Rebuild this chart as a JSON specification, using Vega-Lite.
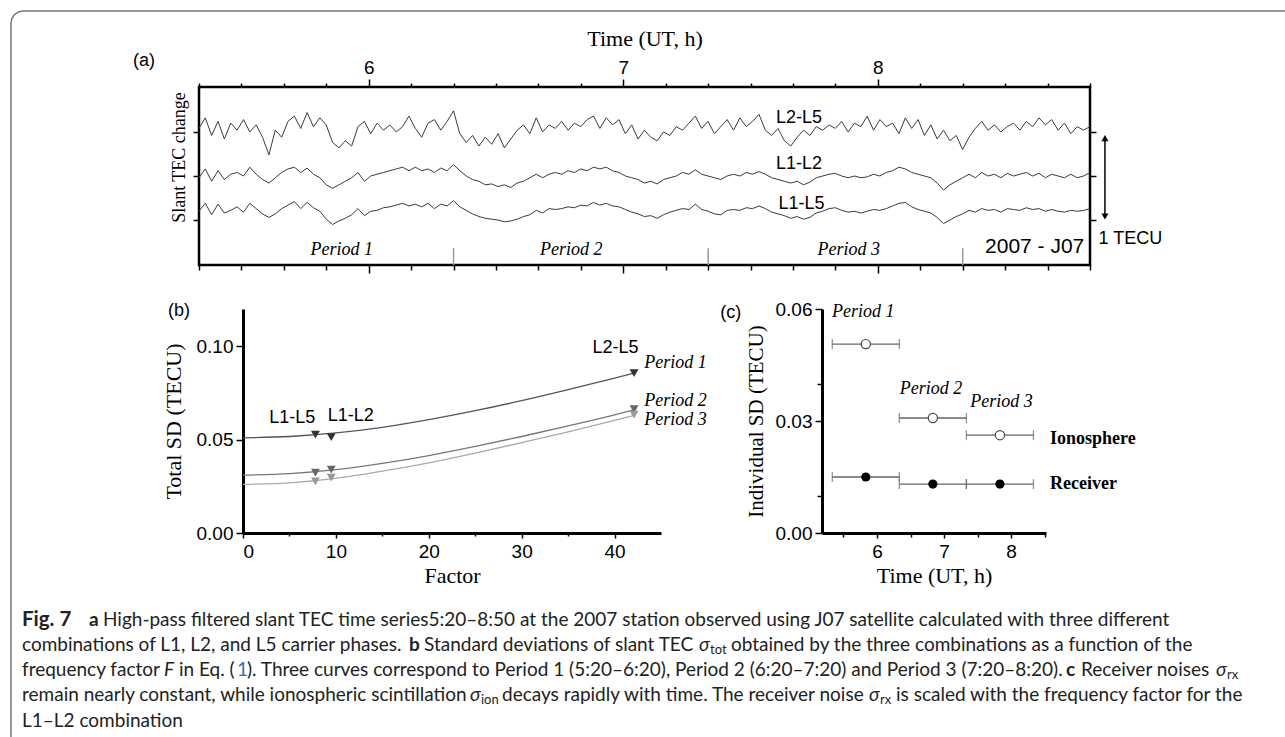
{
"$schema": "https://vega.github.io/schema/vega-lite/v6.json",
"padding": {"left": 8, "top": 8, "right": 0, "bottom": 0},
"background": "white",
"config": {"view": {"stroke": null}, "font": "Liberation Sans",
  "axis": {"grid": false, "domainColor": "black", "tickColor": "black", "labelColor": "black", "titleColor": "black", "labelFont": "Liberation Sans"}},
"datasets": {
"tec": [
{"t":5.333,"l25":1.54,"l12":0.98,"l15":0.60},{"t":5.358,"l25":1.66,"l12":1.08,"l15":0.69},{"t":5.383,"l25":1.46,"l12":0.94,"l15":0.56},{"t":5.408,"l25":1.62,"l12":1.06,"l15":0.68},
{"t":5.433,"l25":1.42,"l12":0.96,"l15":0.58},{"t":5.458,"l25":1.60,"l12":1.02,"l15":0.61},{"t":5.483,"l25":1.52,"l12":1.04,"l15":0.65},{"t":5.508,"l25":1.64,"l12":1.00,"l15":0.59},
{"t":5.533,"l25":1.50,"l12":1.10,"l15":0.69},{"t":5.558,"l25":1.58,"l12":1.02,"l15":0.63},{"t":5.583,"l25":1.44,"l12":0.96,"l15":0.57},{"t":5.608,"l25":1.24,"l12":0.92,"l15":0.53},
{"t":5.633,"l25":1.52,"l12":0.98,"l15":0.57},{"t":5.658,"l25":1.44,"l12":1.04,"l15":0.63},{"t":5.683,"l25":1.62,"l12":1.08,"l15":0.67},{"t":5.708,"l25":1.68,"l12":1.10,"l15":0.71},
{"t":5.733,"l25":1.54,"l12":1.04,"l15":0.63},{"t":5.758,"l25":1.72,"l12":1.09,"l15":0.70},{"t":5.783,"l25":1.56,"l12":1.02,"l15":0.64},{"t":5.808,"l25":1.66,"l12":0.98,"l15":0.60},
{"t":5.833,"l25":1.58,"l12":0.90,"l15":0.51},{"t":5.858,"l25":1.38,"l12":0.86,"l15":0.45},{"t":5.883,"l25":1.32,"l12":0.90,"l15":0.49},{"t":5.908,"l25":1.40,"l12":0.94,"l15":0.52},
{"t":5.933,"l25":1.34,"l12":0.98,"l15":0.56},{"t":5.958,"l25":1.56,"l12":1.04,"l15":0.63},{"t":5.983,"l25":1.62,"l12":0.94,"l15":0.55},{"t":6.008,"l25":1.48,"l12":1.00,"l15":0.60},
{"t":6.033,"l25":1.60,"l12":1.02,"l15":0.61},{"t":6.058,"l25":1.52,"l12":1.04,"l15":0.64},{"t":6.083,"l25":1.58,"l12":1.06,"l15":0.65},{"t":6.108,"l25":1.50,"l12":1.08,"l15":0.67},
{"t":6.133,"l25":1.56,"l12":1.10,"l15":0.69},{"t":6.158,"l25":1.68,"l12":1.06,"l15":0.66},{"t":6.183,"l25":1.54,"l12":1.10,"l15":0.68},{"t":6.208,"l25":1.44,"l12":1.06,"l15":0.65},
{"t":6.233,"l25":1.60,"l12":1.08,"l15":0.69},{"t":6.258,"l25":1.64,"l12":1.04,"l15":0.63},{"t":6.283,"l25":1.52,"l12":1.09,"l15":0.68},{"t":6.308,"l25":1.62,"l12":1.06,"l15":0.66},
{"t":6.333,"l25":1.74,"l12":1.13,"l15":0.72},{"t":6.358,"l25":1.48,"l12":1.06,"l15":0.65},{"t":6.383,"l25":1.38,"l12":1.00,"l15":0.61},{"t":6.408,"l25":1.46,"l12":0.96,"l15":0.57},
{"t":6.433,"l25":1.34,"l12":0.94,"l15":0.54},{"t":6.458,"l25":1.44,"l12":0.90,"l15":0.52},{"t":6.483,"l25":1.36,"l12":0.91,"l15":0.51},{"t":6.508,"l25":1.48,"l12":0.88,"l15":0.50},
{"t":6.533,"l25":1.32,"l12":0.90,"l15":0.48},{"t":6.558,"l25":1.42,"l12":0.87,"l15":0.49},{"t":6.583,"l25":1.52,"l12":0.92,"l15":0.51},{"t":6.608,"l25":1.58,"l12":0.94,"l15":0.54},
{"t":6.633,"l25":1.48,"l12":0.98,"l15":0.56},{"t":6.658,"l25":1.66,"l12":1.02,"l15":0.61},{"t":6.683,"l25":1.50,"l12":0.98,"l15":0.58},{"t":6.708,"l25":1.58,"l12":1.02,"l15":0.63},
{"t":6.733,"l25":1.54,"l12":1.04,"l15":0.62},{"t":6.758,"l25":1.62,"l12":1.02,"l15":0.63},{"t":6.783,"l25":1.52,"l12":1.06,"l15":0.65},{"t":6.808,"l25":1.60,"l12":1.04,"l15":0.64},
{"t":6.833,"l25":1.56,"l12":1.08,"l15":0.67},{"t":6.858,"l25":1.64,"l12":1.06,"l15":0.66},{"t":6.883,"l25":1.68,"l12":1.10,"l15":0.70},{"t":6.908,"l25":1.54,"l12":1.08,"l15":0.67},
{"t":6.933,"l25":1.66,"l12":1.10,"l15":0.69},{"t":6.958,"l25":1.58,"l12":1.06,"l15":0.66},{"t":6.983,"l25":1.64,"l12":1.04,"l15":0.65},{"t":7.008,"l25":1.48,"l12":1.00,"l15":0.62},
{"t":7.033,"l25":1.58,"l12":0.98,"l15":0.59},{"t":7.058,"l25":1.42,"l12":0.96,"l15":0.57},{"t":7.083,"l25":1.52,"l12":0.92,"l15":0.54},{"t":7.108,"l25":1.44,"l12":0.94,"l15":0.55},
{"t":7.133,"l25":1.40,"l12":0.91,"l15":0.52},{"t":7.158,"l25":1.50,"l12":0.96,"l15":0.56},{"t":7.183,"l25":1.46,"l12":0.98,"l15":0.59},{"t":7.208,"l25":1.56,"l12":1.00,"l15":0.61},
{"t":7.233,"l25":1.52,"l12":1.04,"l15":0.63},{"t":7.258,"l25":1.60,"l12":1.02,"l15":0.62},{"t":7.283,"l25":1.68,"l12":1.07,"l15":0.68},{"t":7.308,"l25":1.54,"l12":1.02,"l15":0.62},
{"t":7.333,"l25":1.62,"l12":1.00,"l15":0.60},{"t":7.358,"l25":1.48,"l12":0.98,"l15":0.57},{"t":7.383,"l25":1.56,"l12":0.96,"l15":0.56},{"t":7.408,"l25":1.64,"l12":1.00,"l15":0.61},
{"t":7.433,"l25":1.52,"l12":1.02,"l15":0.62},{"t":7.458,"l25":1.66,"l12":1.00,"l15":0.61},{"t":7.483,"l25":1.56,"l12":1.04,"l15":0.64},{"t":7.508,"l25":1.62,"l12":1.02,"l15":0.63},
{"t":7.533,"l25":1.70,"l12":1.05,"l15":0.66},{"t":7.558,"l25":1.52,"l12":1.02,"l15":0.63},{"t":7.583,"l25":1.46,"l12":0.98,"l15":0.59},{"t":7.608,"l25":1.54,"l12":0.96,"l15":0.57},
{"t":7.633,"l25":1.40,"l12":0.94,"l15":0.55},{"t":7.658,"l25":1.34,"l12":0.92,"l15":0.52},{"t":7.683,"l25":1.44,"l12":0.94,"l15":0.54},{"t":7.708,"l25":1.52,"l12":0.90,"l15":0.51},
{"t":7.733,"l25":1.46,"l12":0.93,"l15":0.53},{"t":7.758,"l25":1.56,"l12":0.98,"l15":0.58},{"t":7.783,"l25":1.52,"l12":1.00,"l15":0.60},{"t":7.808,"l25":1.58,"l12":1.02,"l15":0.63},
{"t":7.833,"l25":1.54,"l12":1.03,"l15":0.64},{"t":7.858,"l25":1.62,"l12":1.00,"l15":0.61},{"t":7.883,"l25":1.50,"l12":0.98,"l15":0.59},{"t":7.908,"l25":1.60,"l12":1.00,"l15":0.60},
{"t":7.933,"l25":1.56,"l12":0.98,"l15":0.58},{"t":7.958,"l25":1.68,"l12":0.99,"l15":0.60},{"t":7.983,"l25":1.52,"l12":1.02,"l15":0.62},{"t":8.008,"l25":1.64,"l12":1.00,"l15":0.61},
{"t":8.033,"l25":1.56,"l12":1.04,"l15":0.63},{"t":8.058,"l25":1.60,"l12":1.06,"l15":0.66},{"t":8.083,"l25":1.48,"l12":1.10,"l15":0.69},{"t":8.108,"l25":1.66,"l12":1.08,"l15":0.70},
{"t":8.133,"l25":1.54,"l12":1.04,"l15":0.65},{"t":8.158,"l25":1.64,"l12":1.02,"l15":0.62},{"t":8.183,"l25":1.46,"l12":1.00,"l15":0.60},{"t":8.208,"l25":1.58,"l12":0.98,"l15":0.58},
{"t":8.233,"l25":1.42,"l12":0.92,"l15":0.53},{"t":8.258,"l25":1.52,"l12":0.84,"l15":0.46},{"t":8.283,"l25":1.40,"l12":0.90,"l15":0.50},{"t":8.308,"l25":1.46,"l12":0.94,"l15":0.54},
{"t":8.333,"l25":1.30,"l12":0.98,"l15":0.57},{"t":8.358,"l25":1.44,"l12":1.02,"l15":0.61},{"t":8.383,"l25":1.54,"l12":0.98,"l15":0.59},{"t":8.408,"l25":1.62,"l12":1.04,"l15":0.63},
{"t":8.433,"l25":1.52,"l12":1.00,"l15":0.61},{"t":8.458,"l25":1.58,"l12":1.02,"l15":0.62},{"t":8.483,"l25":1.50,"l12":0.98,"l15":0.59},{"t":8.508,"l25":1.56,"l12":1.03,"l15":0.63},
{"t":8.533,"l25":1.60,"l12":1.00,"l15":0.62},{"t":8.558,"l25":1.52,"l12":1.02,"l15":0.61},{"t":8.583,"l25":1.62,"l12":1.04,"l15":0.64},{"t":8.608,"l25":1.56,"l12":1.00,"l15":0.62},
{"t":8.633,"l25":1.66,"l12":1.03,"l15":0.63},{"t":8.658,"l25":1.58,"l12":0.98,"l15":0.60},{"t":8.683,"l25":1.64,"l12":1.02,"l15":0.62},{"t":8.708,"l25":1.52,"l12":1.00,"l15":0.60},
{"t":8.733,"l25":1.60,"l12":0.98,"l15":0.59},{"t":8.758,"l25":1.48,"l12":1.02,"l15":0.61},{"t":8.783,"l25":1.56,"l12":0.98,"l15":0.60},{"t":8.808,"l25":1.52,"l12":1.00,"l15":0.61},
{"t":8.833,"l25":1.56,"l12":1.04,"l15":0.63}
],
"curves": [
{"period":"Period 1","F":0,"sd":0.0510},{"period":"Period 1","F":5,"sd":0.0517},{"period":"Period 1","F":10,"sd":0.0536},{"period":"Period 1","F":15,"sd":0.0566},{"period":"Period 1","F":20,"sd":0.0607},{"period":"Period 1","F":25,"sd":0.0655},{"period":"Period 1","F":30,"sd":0.0709},{"period":"Period 1","F":35,"sd":0.0768},{"period":"Period 1","F":40,"sd":0.0830},{"period":"Period 1","F":42.1,"sd":0.0857},
{"period":"Period 2","F":0,"sd":0.0310},{"period":"Period 2","F":5,"sd":0.0318},{"period":"Period 2","F":10,"sd":0.0339},{"period":"Period 2","F":15,"sd":0.0373},{"period":"Period 2","F":20,"sd":0.0415},{"period":"Period 2","F":25,"sd":0.0464},{"period":"Period 2","F":30,"sd":0.0517},{"period":"Period 2","F":35,"sd":0.0574},{"period":"Period 2","F":40,"sd":0.0633},{"period":"Period 2","F":42.1,"sd":0.0660},
{"period":"Period 3","F":0,"sd":0.0260},{"period":"Period 3","F":5,"sd":0.0269},{"period":"Period 3","F":10,"sd":0.0293},{"period":"Period 3","F":15,"sd":0.0331},{"period":"Period 3","F":20,"sd":0.0376},{"period":"Period 3","F":25,"sd":0.0428},{"period":"Period 3","F":30,"sd":0.0484},{"period":"Period 3","F":35,"sd":0.0542},{"period":"Period 3","F":40,"sd":0.0603},{"period":"Period 3","F":42.1,"sd":0.0630}
],
"tri": [
{"period":"Period 1","combo":"L1-L5","F":7.8,"sd":0.0527},{"period":"Period 1","combo":"L1-L2","F":9.5,"sd":0.0514},{"period":"Period 1","combo":"L2-L5","F":42.1,"sd":0.0857},
{"period":"Period 2","combo":"L1-L5","F":7.8,"sd":0.0323},{"period":"Period 2","combo":"L1-L2","F":9.5,"sd":0.0339},{"period":"Period 2","combo":"L2-L5","F":42.1,"sd":0.0663},
{"period":"Period 3","combo":"L1-L5","F":7.8,"sd":0.0277},{"period":"Period 3","combo":"L1-L2","F":9.5,"sd":0.0296},{"period":"Period 3","combo":"L2-L5","F":42.1,"sd":0.0634}
],
"indiv": [
{"comp":"Ionosphere","period":"Period 1","center":5.833,"start":5.333,"end":6.333,"sd":0.0506},
{"comp":"Ionosphere","period":"Period 2","center":6.833,"start":6.333,"end":7.333,"sd":0.0308},
{"comp":"Ionosphere","period":"Period 3","center":7.833,"start":7.333,"end":8.333,"sd":0.0262},
{"comp":"Receiver","period":"Period 1","center":5.833,"start":5.333,"end":6.333,"sd":0.0150},
{"comp":"Receiver","period":"Period 2","center":6.833,"start":6.333,"end":7.333,"sd":0.0131},
{"comp":"Receiver","period":"Period 3","center":7.833,"start":7.333,"end":8.333,"sd":0.0131}
]
},
"bounds": "flush",
"spacing": 44,
"vconcat": [
{
 "width": 891, "height": 178,
 "view": {"stroke": "black", "strokeWidth": 2.5},
 "layer": [
  {
   "data": {"name": "tec"},
   "transform": [{"fold": ["l25", "l12", "l15"], "as": ["combo", "tecu"]}],
   "mark": {"type": "line", "color": "#3a3a3a", "strokeWidth": 1},
   "encoding": {
    "x": {"field": "t", "type": "quantitative", "scale": {"domain": [5.3333, 8.8333], "nice": false, "zero": false},
      "axis": {"orient": "top", "values": [6, 7, 8], "format": "d", "tickSize": 8, "tickWidth": 1.5, "domain": false, "labelFontSize": 19, "labelPadding": 2, "title": "Time (UT, h)", "titleFont": "Liberation Serif", "titleFontSize": 22, "titleFontWeight": "normal", "titlePadding": 8}},
    "y": {"field": "tecu", "type": "quantitative", "scale": {"domain": [-0.01, 2.01], "nice": false, "zero": false},
      "axis": {"orient": "left", "values": [0.5, 1, 1.5], "labels": false, "tickSize": 6, "tickWidth": 1.5, "domain": false, "title": "Slant TEC change", "titleFont": "Liberation Serif", "titleFontSize": 18, "titleFontWeight": "normal", "titlePadding": 4, "titleY": 70}},
    "detail": {"field": "combo", "type": "nominal"}
   }
  },
  {
   "data": {"values": [{"t": 6.3333}, {"t": 7.3333}, {"t": 8.3333}]},
   "mark": {"type": "rule", "color": "#999999", "strokeWidth": 1.5},
   "encoding": {
    "x": {"field": "t", "type": "quantitative", "axis": {"orient": "bottom", "values": [6, 7, 8], "tickSize": 8, "tickWidth": 1.5, "labels": false, "domain": false, "title": null}},
    "y": {"datum": -0.01, "axis": null},
    "y2": {"datum": 0.18}
   }
  },
  {
   "data": {"values": [{"t": 7.69, "v": 1.66, "label": "L2-L5"}, {"t": 7.69, "v": 1.14, "label": "L1-L2"}, {"t": 7.70, "v": 0.68, "label": "L1-L5"}]},
   "mark": {"type": "text", "font": "Liberation Sans", "fontSize": 18, "color": "black"},
   "encoding": {
    "x": {"field": "t", "type": "quantitative", "axis": {"orient": "top", "values": [5.3333, 5.5, 5.6667, 5.8333, 6.1667, 6.3333, 6.5, 6.6667, 6.8333, 7.1667, 7.3333, 7.5, 7.6667, 7.8333, 8.1667, 8.3333, 8.5, 8.6667, 8.8333], "tickSize": 4, "tickWidth": 1.5, "labels": false, "domain": false, "title": null}},
    "y": {"field": "v", "type": "quantitative", "axis": {"orient": "right", "values": [0.5, 1, 1.5], "tickSize": 6, "tickWidth": 1.5, "labels": false, "domain": false, "title": null}},
    "text": {"field": "label"}
   }
  },
  {
   "data": {"values": [{"t": 5.894, "v": 0.16, "label": "Period 1"}, {"t": 6.796, "v": 0.16, "label": "Period 2"}, {"t": 7.886, "v": 0.16, "label": "Period 3"}]},
   "mark": {"type": "text", "font": "Liberation Serif", "fontStyle": "italic", "fontSize": 18, "color": "black"},
   "encoding": {
    "x": {"field": "t", "type": "quantitative", "axis": {"orient": "bottom", "values": [5.3333, 5.5, 5.6667, 5.8333, 6.1667, 6.3333, 6.5, 6.6667, 6.8333, 7.1667, 7.3333, 7.5, 7.6667, 7.8333, 8.1667, 8.3333, 8.5, 8.6667, 8.8333], "tickSize": 5, "tickWidth": 1.5, "labels": false, "domain": false, "title": null}},
    "y": {"field": "v", "type": "quantitative", "axis": null},
    "text": {"field": "label"}
   }
  },
  {
   "data": {"values": [{"t": 8.616, "v": 0.19, "label": "2007 - J07"}]},
   "mark": {"type": "text", "font": "Liberation Sans", "fontSize": 21, "color": "black"},
   "encoding": {
    "x": {"field": "t", "type": "quantitative", "axis": null},
    "y": {"field": "v", "type": "quantitative", "axis": null},
    "text": {"field": "label"}
   }
  },
  {
   "data": {"values": [{"t": 5.074, "v": 2.3, "label": "(a)"}, {"t": 8.867, "v": 0.284, "label": "1 TECU"}]},
   "mark": {"type": "text", "font": "Liberation Sans", "fontSize": 18, "align": "left", "color": "black"},
   "encoding": {
    "x": {"field": "t", "type": "quantitative", "axis": null},
    "y": {"field": "v", "type": "quantitative", "axis": null},
    "text": {"field": "label"}
   }
  },
  {
   "data": {"values": [{}]},
   "mark": {"type": "rule", "color": "black", "strokeWidth": 1.5},
   "encoding": {
    "x": {"datum": 8.892, "axis": null},
    "y": {"datum": 0.53, "axis": null},
    "y2": {"datum": 1.44}
   }
  },
  {
   "data": {"values": [{"t": 8.892, "v": 1.43, "dir": "up"}, {"t": 8.892, "v": 0.54, "dir": "down"}]},
   "mark": {"type": "point", "filled": true, "color": "black", "size": 50, "opacity": 1},
   "encoding": {
    "x": {"field": "t", "type": "quantitative", "axis": null},
    "y": {"field": "v", "type": "quantitative", "axis": null},
    "shape": {"field": "dir", "type": "nominal", "scale": {"domain": ["up", "down"], "range": ["triangle-up", "triangle-down"]}, "legend": null}
   }
  }
 ],
 "resolve": {"axis": {"x": "independent", "y": "independent"}}
},
{
 "width": 847, "height": 224,
 "layer": [
  {
   "data": {"name": "curves"},
   "mark": {"type": "line", "strokeWidth": 1.3, "interpolate": "monotone"},
   "encoding": {
    "x": {"field": "F", "type": "quantitative", "scale": {"domain": [0, 45], "range": [44, 462], "nice": false, "zero": false},
      "axis": {"orient": "bottom", "values": [0, 10, 20, 30, 40], "tickSize": 5, "tickWidth": 1.5, "domainWidth": 3, "labelFontSize": 19, "labelPadding": 4, "title": "Factor", "titleFont": "Liberation Serif", "titleFontSize": 22, "titleFontWeight": "normal", "titlePadding": 4}},
    "y": {"field": "sd", "type": "quantitative", "scale": {"domain": [0, 0.12], "nice": false, "zero": false},
      "axis": {"orient": "left", "offset": -44, "values": [0, 0.05, 0.1], "format": ".2f", "tickSize": 7, "tickWidth": 1.5, "domainWidth": 3, "labelFontSize": 19, "labelPadding": 3, "title": "Total SD (TECU)", "titleFont": "Liberation Serif", "titleFontSize": 22, "titleFontWeight": "normal", "titlePadding": 11}},
    "color": {"field": "period", "type": "nominal", "scale": {"domain": ["Period 1", "Period 2", "Period 3"], "range": ["#555555", "#777777", "#aaaaaa"]}, "legend": null}
   }
  },
  {
   "data": {"name": "tri"},
   "mark": {"type": "point", "shape": "triangle-down", "filled": true, "size": 80, "opacity": 1},
   "encoding": {
    "x": {"field": "F", "type": "quantitative", "scale": {"domain": [0, 45], "range": [44, 462], "nice": false, "zero": false},
      "axis": {"orient": "bottom", "values": [5, 15, 25, 35], "tickSize": 3, "tickWidth": 1.5, "labels": false, "domain": false, "title": null}},
    "y": {"field": "sd", "type": "quantitative", "scale": {"domain": [0, 0.12], "nice": false, "zero": false}, "axis": null},
    "color": {"field": "period", "type": "nominal", "scale": {"domain": ["Period 1", "Period 2", "Period 3"], "range": ["#333333", "#666666", "#999999"]}, "legend": null}
   }
  },
  {
   "data": {"values": [{"F": 5.3, "sd": 0.0618, "label": "L1-L5"}, {"F": 11.6, "sd": 0.0629, "label": "L1-L2"}, {"F": 40.1, "sd": 0.0991, "label": "L2-L5"}, {"F": -6.9, "sd": 0.1188, "label": "(b)"}]},
   "mark": {"type": "text", "font": "Liberation Sans", "fontSize": 18, "color": "black"},
   "encoding": {
    "x": {"field": "F", "type": "quantitative", "scale": {"domain": [0, 45], "range": [44, 462], "nice": false, "zero": false}, "axis": null},
    "y": {"field": "sd", "type": "quantitative", "scale": {"domain": [0, 0.12], "nice": false, "zero": false}, "axis": null},
    "text": {"field": "label"}
   }
  },
  {
   "data": {"values": [{"F": 43.2, "sd": 0.091, "label": "Period 1"}, {"F": 43.2, "sd": 0.0708, "label": "Period 2"}, {"F": 43.2, "sd": 0.0606, "label": "Period 3"}]},
   "mark": {"type": "text", "font": "Liberation Serif", "fontStyle": "italic", "fontSize": 18, "align": "left", "color": "black"},
   "encoding": {
    "x": {"field": "F", "type": "quantitative", "scale": {"domain": [0, 45], "range": [44, 462], "nice": false, "zero": false}, "axis": null},
    "y": {"field": "sd", "type": "quantitative", "scale": {"domain": [0, 0.12], "nice": false, "zero": false}, "axis": null},
    "text": {"field": "label"}
   }
  },
  {
   "data": {"name": "indiv"},
   "mark": {"type": "rule", "color": "#666666", "strokeWidth": 1.3},
   "encoding": {
    "x": {"field": "start", "type": "quantitative", "scale": {"domain": [5.18, 8.52], "range": [623, 847], "nice": false, "zero": false},
      "axis": {"orient": "bottom", "values": [6, 7, 8], "format": "d", "tickSize": 5, "tickWidth": 1.5, "domainWidth": 3, "labelFontSize": 19, "labelPadding": 4, "title": "Time (UT, h)", "titleFont": "Liberation Serif", "titleFontSize": 22, "titleFontWeight": "normal", "titlePadding": 4}},
    "x2": {"field": "end"},
    "y": {"field": "sd", "type": "quantitative", "scale": {"domain": [0, 0.06], "nice": false, "zero": false},
      "axis": {"orient": "left", "offset": -623, "values": [0, 0.03, 0.06], "format": ".2f", "tickSize": 7, "tickWidth": 1.5, "domainWidth": 3, "labelFontSize": 19, "labelPadding": 3, "title": "Individual SD (TECU)", "titleFont": "Liberation Serif", "titleFontSize": 21, "titleFontWeight": "normal", "titlePadding": 9}}
   }
  },
  {
   "data": {"name": "indiv"},
   "mark": {"type": "tick", "orient": "vertical", "color": "#666666", "size": 10, "thickness": 1.3},
   "encoding": {
    "x": {"field": "start", "type": "quantitative", "scale": {"domain": [5.18, 8.52], "range": [623, 847], "nice": false, "zero": false},
      "axis": {"orient": "bottom", "values": [5.5, 6.5, 7.5, 8.5], "tickSize": 4, "tickWidth": 1.5, "labels": false, "domain": false, "title": null}},
    "y": {"field": "sd", "type": "quantitative", "scale": {"domain": [0, 0.06], "nice": false, "zero": false},
      "axis": {"orient": "left", "offset": -623, "values": [0.01, 0.04], "tickSize": 5, "tickWidth": 1.5, "labels": false, "domain": false, "title": null}}
   }
  },
  {
   "data": {"name": "indiv"},
   "mark": {"type": "tick", "orient": "vertical", "color": "#666666", "size": 10, "thickness": 1.3},
   "encoding": {
    "x": {"field": "end", "type": "quantitative", "scale": {"domain": [5.18, 8.52], "range": [623, 847], "nice": false, "zero": false}, "axis": null},
    "y": {"field": "sd", "type": "quantitative", "scale": {"domain": [0, 0.06], "nice": false, "zero": false}, "axis": null}
   }
  },
  {
   "data": {"name": "indiv"},
   "transform": [{"filter": {"field": "comp", "equal": "Ionosphere"}}],
   "mark": {"type": "point", "shape": "circle", "filled": true, "fill": "white", "stroke": "#444444", "strokeWidth": 1.2, "size": 85, "opacity": 1},
   "encoding": {
    "x": {"field": "center", "type": "quantitative", "scale": {"domain": [5.18, 8.52], "range": [623, 847], "nice": false, "zero": false}, "axis": null},
    "y": {"field": "sd", "type": "quantitative", "scale": {"domain": [0, 0.06], "nice": false, "zero": false}, "axis": null}
   }
  },
  {
   "data": {"name": "indiv"},
   "transform": [{"filter": {"field": "comp", "equal": "Receiver"}}],
   "mark": {"type": "point", "shape": "circle", "filled": true, "color": "black", "size": 85, "opacity": 1},
   "encoding": {
    "x": {"field": "center", "type": "quantitative", "scale": {"domain": [5.18, 8.52], "range": [623, 847], "nice": false, "zero": false}, "axis": null},
    "y": {"field": "sd", "type": "quantitative", "scale": {"domain": [0, 0.06], "nice": false, "zero": false}, "axis": null}
   }
  },
  {
   "data": {"values": [{"t": 5.33, "sd": 0.0592, "label": "Period 1"}, {"t": 6.34, "sd": 0.0386, "label": "Period 2"}, {"t": 7.39, "sd": 0.0351, "label": "Period 3"}]},
   "mark": {"type": "text", "font": "Liberation Serif", "fontStyle": "italic", "fontSize": 18, "align": "left", "color": "black"},
   "encoding": {
    "x": {"field": "t", "type": "quantitative", "scale": {"domain": [5.18, 8.52], "range": [623, 847], "nice": false, "zero": false}, "axis": null},
    "y": {"field": "sd", "type": "quantitative", "scale": {"domain": [0, 0.06], "nice": false, "zero": false}, "axis": null},
    "text": {"field": "label"}
   }
  },
  {
   "data": {"values": [{"t": 8.58, "sd": 0.0252, "label": "Ionosphere"}, {"t": 8.58, "sd": 0.0132, "label": "Receiver"}]},
   "mark": {"type": "text", "font": "Liberation Serif", "fontWeight": "bold", "fontSize": 18, "align": "left", "color": "black"},
   "encoding": {
    "x": {"field": "t", "type": "quantitative", "scale": {"domain": [5.18, 8.52], "range": [623, 847], "nice": false, "zero": false}, "axis": null},
    "y": {"field": "sd", "type": "quantitative", "scale": {"domain": [0, 0.06], "nice": false, "zero": false}, "axis": null},
    "text": {"field": "label"}
   }
  },
  {
   "data": {"values": [{"t": 3.82, "sd": 0.059, "label": "(c)"}]},
   "mark": {"type": "text", "font": "Liberation Sans", "fontSize": 18, "color": "black"},
   "encoding": {
    "x": {"field": "t", "type": "quantitative", "scale": {"domain": [5.18, 8.52], "range": [623, 847], "nice": false, "zero": false}, "axis": null},
    "y": {"field": "sd", "type": "quantitative", "scale": {"domain": [0, 0.06], "nice": false, "zero": false}, "axis": null},
    "text": {"field": "label"}
   }
  }
 ],
 "resolve": {"scale": {"x": "independent", "y": "independent", "color": "independent"}, "axis": {"x": "independent", "y": "independent"}}
},
{
 "width": 891, "height": 160,
 "encoding": {
  "x": {"field": "x", "type": "quantitative", "scale": {"domain": [197, 1088], "nice": false, "zero": false}, "axis": null},
  "y": {"field": "y", "type": "quantitative", "scale": {"domain": [575, 735], "nice": false, "zero": false, "reverse": true}, "axis": null}
 },
 "layer": [
  {
   "data": {"values": [
    {"x": 101, "y": 618, "text": "High-pass filtered slant TEC time series5:20–8:50 at the 2007 station observed using J07 satellite calculated with three different"},
    {"x": 20, "y": 643, "text": "combinations of L1, L2, and L5 carrier phases."},
    {"x": 422, "y": 643, "text": "Standard deviations of slant TEC"},
    {"x": 729, "y": 643, "text": "obtained by the three combinations as a function of the"},
    {"x": 20, "y": 668, "text": "frequency factor"},
    {"x": 177, "y": 668, "text": "in Eq. ("},
    {"x": 245, "y": 668, "text": "). Three curves correspond to Period 1 (5:20–6:20), Period 2 (6:20–7:20) and Period 3 (7:20–8:20)."},
    {"x": 1079, "y": 668, "text": "Receiver noises"},
    {"x": 20, "y": 693, "text": "remain nearly constant, while ionospheric scintillation"},
    {"x": 500, "y": 693, "text": "decays rapidly with time. The receiver noise"},
    {"x": 894, "y": 693, "text": "is scaled with the frequency factor for the"},
    {"x": 20, "y": 719, "text": "L1–L2 combination"}
   ]},
   "mark": {"type": "text", "font": "Lato", "fontSize": 19, "align": "left", "baseline": "middle", "color": "#222222"},
   "encoding": {"text": {"field": "text"}}
  },
  {
   "data": {"values": [
    {"x": 20, "y": 618, "text": "Fig. 7", "sz": "big"},
    {"x": 87, "y": 618, "text": "a", "sz": "n"},
    {"x": 407, "y": 643, "text": "b", "sz": "n"},
    {"x": 1064, "y": 668, "text": "c", "sz": "n"}
   ]},
   "mark": {"type": "text", "font": "Lato", "fontWeight": "bold", "align": "left", "baseline": "middle", "color": "#222222"},
   "encoding": {"text": {"field": "text"}, "size": {"field": "sz", "type": "nominal", "scale": {"domain": ["big", "n"], "range": [20.5, 19]}, "legend": null}}
  },
  {
   "data": {"values": [
    {"x": 697, "y": 643, "text": "σ"},
    {"x": 162, "y": 668, "text": "F"},
    {"x": 1214, "y": 668, "text": "σ"},
    {"x": 468, "y": 693, "text": "σ"},
    {"x": 867, "y": 693, "text": "σ"}
   ]},
   "mark": {"type": "text", "font": "Lato", "fontStyle": "italic", "fontSize": 19, "align": "left", "baseline": "middle", "color": "#222222"},
   "encoding": {"text": {"field": "text"}}
  },
  {
   "data": {"values": [
    {"x": 708, "y": 648, "text": "tot"},
    {"x": 1225, "y": 673, "text": "rx"},
    {"x": 479, "y": 698, "text": "ion"},
    {"x": 878, "y": 698, "text": "rx"}
   ]},
   "mark": {"type": "text", "font": "Lato", "fontSize": 13, "align": "left", "baseline": "middle", "color": "#222222"},
   "encoding": {"text": {"field": "text"}}
  },
  {
   "data": {"values": [{"x": 235, "y": 668, "text": "1"}]},
   "mark": {"type": "text", "font": "Lato", "fontSize": 19, "align": "left", "baseline": "middle", "color": "#2f6db5"},
   "encoding": {"text": {"field": "text"}}
  },
  {
   "data": {"values": [
    {"x": 9, "y": 735, "o": 0}, {"x": 9, "y": 21, "o": 1}, {"x": 9.91, "y": 16.41, "o": 2}, {"x": 12.51, "y": 12.51, "o": 3},
    {"x": 16.41, "y": 9.91, "o": 4}, {"x": 21, "y": 9, "o": 5}, {"x": 1283, "y": 9, "o": 6}
   ]},
   "mark": {"type": "line", "color": "#777777", "strokeWidth": 1.5},
   "encoding": {"order": {"field": "o", "type": "quantitative"}}
  }
 ]
}
]
}
